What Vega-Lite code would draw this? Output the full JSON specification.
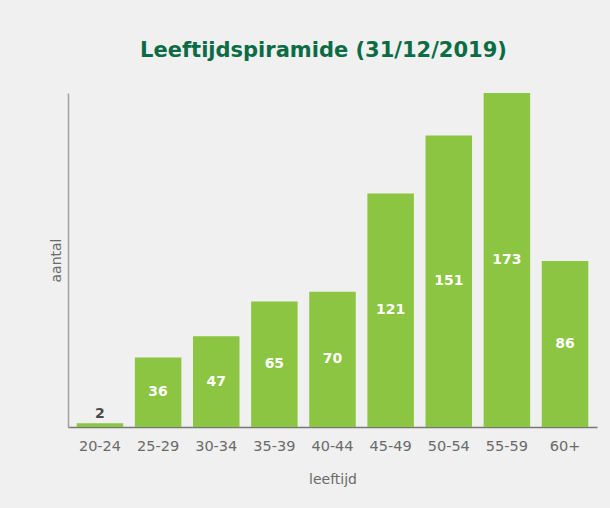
{
  "$schema": "https://vega.github.io/schema/vega-lite/v6.json",
  "width": 529,
  "height": 334,
  "autosize": {"type": "none"},
  "padding": {"left": 68, "top": 93, "right": 13, "bottom": 81},
  "background": "#eff0ef",
  "title": {
    "text": "Leeftijdspiramide (31/12/2019)",
    "font": "DejaVu Sans",
    "fontSize": 21,
    "fontWeight": "bold",
    "color": "#0b6b44",
    "anchor": "middle",
    "dx": -9,
    "offset": 32
  },
  "data": {
    "values": [
      {"leeftijd": "20-24", "aantal": 2},
      {"leeftijd": "25-29", "aantal": 36},
      {"leeftijd": "30-34", "aantal": 47},
      {"leeftijd": "35-39", "aantal": 65},
      {"leeftijd": "40-44", "aantal": 70},
      {"leeftijd": "45-49", "aantal": 121},
      {"leeftijd": "50-54", "aantal": 151},
      {"leeftijd": "55-59", "aantal": 173},
      {"leeftijd": "60+", "aantal": 86}
    ]
  },
  "encoding": {
    "x": {
      "field": "leeftijd",
      "type": "nominal",
      "sort": null,
      "scale": {"paddingInner": 0.2, "paddingOuter": 0.15},
      "axis": {
        "title": "leeftijd",
        "labelAngle": 0,
        "labelFont": "DejaVu Sans",
        "labelFontSize": 14.5,
        "labelColor": "#6a6a6a",
        "labelPadding": 12,
        "ticks": false,
        "domainColor": "#777777",
        "domainWidth": 1.5,
        "titleFont": "DejaVu Sans",
        "titleFontSize": 14,
        "titleFontWeight": "normal",
        "titleColor": "#6a6a6a",
        "titlePadding": 20
      }
    }
  },
  "layer": [
    {
      "mark": {"type": "bar", "color": "#8bc541"},
      "encoding": {
        "y": {
          "field": "aantal",
          "type": "quantitative",
          "scale": {"domain": [0, 173], "nice": false},
          "axis": {
            "title": "aantal",
            "labels": false,
            "ticks": false,
            "grid": false,
            "domainColor": "#a0a0a0",
            "domainWidth": 1.5,
            "titleFont": "DejaVu Sans",
            "titleFontSize": 14,
            "titleFontWeight": "normal",
            "titleColor": "#6a6a6a",
            "titlePadding": 5
          }
        }
      }
    },
    {
      "transform": [{"filter": "datum.aantal >= 10"}],
      "mark": {"type": "text", "font": "DejaVu Sans", "fontSize": 14, "fontWeight": "bold", "color": "#ffffff", "baseline": "middle"},
      "encoding": {
        "y": {
          "field": "aantal",
          "type": "quantitative",
          "scale": {"domain": [0, 346], "nice": false},
          "axis": null
        },
        "text": {"field": "aantal", "type": "quantitative"}
      }
    },
    {
      "transform": [{"filter": "datum.aantal < 10"}],
      "mark": {"type": "text", "font": "DejaVu Sans", "fontSize": 14, "fontWeight": "bold", "color": "#4a4a4a", "baseline": "bottom", "dy": -2},
      "encoding": {
        "y": {
          "field": "aantal",
          "type": "quantitative",
          "scale": {"domain": [0, 173], "nice": false},
          "axis": null
        },
        "text": {"field": "aantal", "type": "quantitative"}
      }
    }
  ],
  "resolve": {"scale": {"y": "independent"}},
  "config": {"view": {"stroke": null}}
}
